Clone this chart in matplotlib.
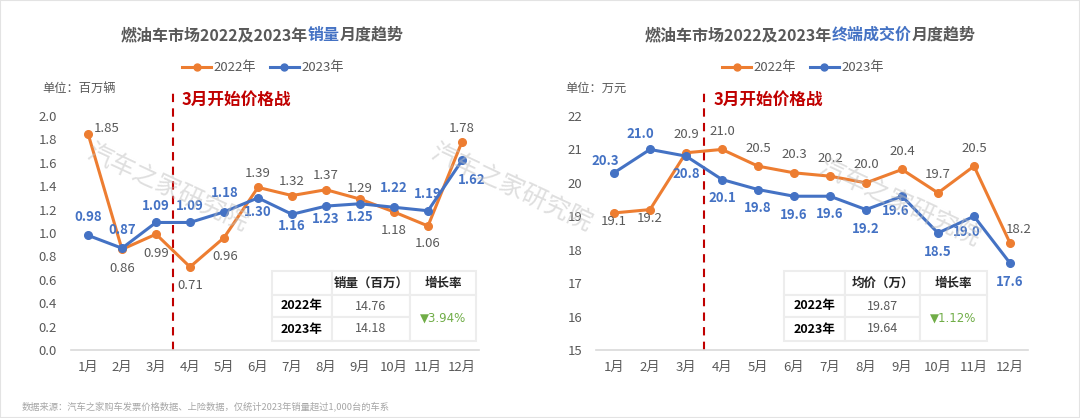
import matplotlib
matplotlib.use('Agg')
import matplotlib.pyplot as plt
from matplotlib.patches import Rectangle
from matplotlib.lines import Line2D

plt.rcParams['font.family'] = ['Noto Sans CJK SC', 'DejaVu Sans']

# ---- data ----
months = ['1月', '2月', '3月', '4月', '5月', '6月', '7月', '8月', '9月', '10月', '11月', '12月']
sales_2022 = [1.85, 0.86, 0.99, 0.71, 0.96, 1.39, 1.32, 1.37, 1.29, 1.18, 1.06, 1.78]
sales_2023 = [0.98, 0.87, 1.09, 1.09, 1.18, 1.30, 1.16, 1.23, 1.25, 1.22, 1.19, 1.62]
price_2022 = [19.1, 19.2, 20.9, 21.0, 20.5, 20.3, 20.2, 20.0, 20.4, 19.7, 20.5, 18.2]
price_2023 = [20.3, 21.0, 20.8, 20.1, 19.8, 19.6, 19.6, 19.2, 19.6, 18.5, 19.0, 17.6]

sales_table_years = ['2022年', '2023年']
sales_table_vals = ['14.76', '14.18']
sales_growth = '▼3.94%'
price_table_years = ['2022年', '2023年']
price_table_vals = ['19.87', '19.64']
price_growth = '▼1.12%'

# ---- style ----
ORANGE = '#ED7D31'
BLUE = '#4472C4'
GRAY = '#595959'
RED = '#C00000'
GREEN = '#70AD47'
W, H = 1080, 418
LBL = 9.5

# label offsets in pixels (dx, dy up positive)
sales_off_22 = [(19, 5), (0, -19), (0, -19), (0, -19), (1, -19), (0, 14), (0, 14),
                (0, 14), (0, 11), (0, -19), (0, -18), (0, 13)]
sales_off_23 = [(0, 18), (0, 18), (0, 16), (0, 16), (1, 19), (0, -14), (0, -12),
                (0, -13), (0, -13), (0, 19), (0, 17), (10, -20)]
price_off_22 = [(0, -9), (0, -9), (0, 18), (0, 18), (0, 18), (0, 18), (0, 18),
                (0, 18), (0, 18), (0, 18), (0, 18), (9, 14)]
price_off_23 = [(-9, 12), (-10, 15), (0, -18), (0, -18), (0, -18), (0, -19), (0, -18),
                (0, -19), (-6, -15), (0, -19), (-7, -16), (0, -19)]


def fx(px):
    return px / W


def fy(py):
    return 1 - py / H


fig = plt.figure(figsize=(10.8, 4.18), dpi=100)
fig.patch.set_facecolor('white')
fig.add_artist(Rectangle((0, 0), 1, 1, transform=fig.transFigure, fill=False,
                         edgecolor='#E3E3E3', linewidth=1.5))


def color_title(cx, cy, parts, size=11.5):
    r = fig.canvas.get_renderer()
    texts = [fig.text(0, fy(cy), s, color=c, fontsize=size, fontweight='bold',
                      va='center', ha='left') for s, c in parts]
    widths = [t.get_window_extent(renderer=r).width for t in texts]
    x = cx - sum(widths) / 2
    for t, w in zip(texts, widths):
        t.set_x(fx(x))
        x += w


def watermark(x, y):
    fig.text(fx(x), fy(y), '汽车之家研究院', fontsize=18, color='#BFBFBF', alpha=0.5,
             rotation=-25, rotation_mode='anchor', ha='left', va='center', zorder=0)


def draw_panel(rect, vals22, vals23, off22, off23, ylim, yticks, yfmt):
    ax = fig.add_axes(rect)
    x = range(len(months))
    ax.plot(x, vals22, color=ORANGE, lw=2.2, marker='o', ms=5.5, zorder=3, clip_on=False)
    ax.plot(x, vals23, color=BLUE, lw=2.2, marker='o', ms=5.5, zorder=4, clip_on=False)
    for i, v in enumerate(vals22):
        dx, dy = off22[i]
        ax.annotate(yfmt.format(v), (i, v), xytext=(dx * 0.72, dy * 0.72),
                    textcoords='offset points', ha='center', va='center',
                    fontsize=LBL, color=GRAY, zorder=5)
    for i, v in enumerate(vals23):
        dx, dy = off23[i]
        ax.annotate(yfmt.format(v), (i, v), xytext=(dx * 0.72, dy * 0.72),
                    textcoords='offset points', ha='center', va='center',
                    fontsize=LBL, color=BLUE, fontweight='bold', zorder=5)
    ax.set_xlim(-0.5, len(months) - 0.5)
    ax.set_ylim(*ylim)
    ax.set_yticks(yticks)
    ax.set_xticks(list(x))
    ax.set_xticklabels(months)
    ax.tick_params(length=0, labelsize=9.5, labelcolor=GRAY)
    ax.tick_params(axis='y', pad=10)
    ax.tick_params(axis='x', pad=8)
    for s in ['top', 'right', 'left']:
        ax.spines[s].set_visible(False)
    ax.spines['bottom'].set_color('#D9D9D9')
    ax.spines['bottom'].set_linewidth(1.2)
    ax.set_facecolor('none')
    # price war marker
    ax.axvline(2.5, ymin=0, ymax=1.11, color=RED, lw=1.5, ls=(0, (4, 3)), clip_on=False)
    return ax


def draw_table(xs, ys, header, years, vals, growth):
    for x0, x1 in zip(xs[:-1], xs[1:]):
        for i, (y0, y1) in enumerate(zip(ys[:-1], ys[1:])):
            if x0 == xs[2] and i > 0:
                continue
            fig.add_artist(Rectangle((fx(x0), fy(y1)), fx(x1 - x0), (y1 - y0) / H,
                                     transform=fig.transFigure, facecolor='white',
                                     edgecolor='#EDEDED', lw=1.5, zorder=6))
    fig.add_artist(Rectangle((fx(xs[2]), fy(ys[3])), fx(xs[3] - xs[2]), (ys[3] - ys[1]) / H,
                             transform=fig.transFigure, facecolor='white',
                             edgecolor='#EDEDED', lw=1.5, zorder=6))
    cx = [(a + b) / 2 for a, b in zip(xs[:-1], xs[1:])]
    cy = [(a + b) / 2 for a, b in zip(ys[:-1], ys[1:])]
    fig.text(fx(cx[1]), fy(cy[0]), header, ha='center', va='center', fontsize=9,
             fontweight='bold', color='#262626', zorder=7)
    fig.text(fx(cx[2]), fy(cy[0]), '增长率', ha='center', va='center', fontsize=9,
             fontweight='bold', color='#262626', zorder=7)
    for j in range(2):
        fig.text(fx(cx[0]), fy(cy[j + 1]), years[j], ha='center', va='center',
                 fontsize=9, fontweight='bold', color='black', zorder=7)
        fig.text(fx(cx[1]), fy(cy[j + 1]), vals[j], ha='center', va='center',
                 fontsize=9, color=GRAY, zorder=7)
    fig.text(fx(cx[2]), fy((ys[1] + ys[3]) / 2), growth, ha='center', va='center',
             fontsize=8.5, color=GREEN, zorder=7, family=['DejaVu Sans'])


# watermarks (behind)
watermark(88, 150)
watermark(432, 150)
watermark(820, 165)

ax1 = draw_panel([fx(71), fy(350), fx(408), (350 - 116) / H], sales_2022, sales_2023,
                 sales_off_22, sales_off_23, (0, 2.0),
                 [0, 0.2, 0.4, 0.6, 0.8, 1.0, 1.2, 1.4, 1.6, 1.8, 2.0], '{:.2f}')
ax1.yaxis.set_major_formatter(plt.FuncFormatter(lambda v, p: f'{v:.1f}'))
ax2 = draw_panel([fx(596), fy(350), fx(432), (350 - 116) / H], price_2022, price_2023,
                 price_off_22, price_off_23, (15, 22), list(range(15, 23)), '{:.1f}')

# titles
color_title(262, 35, [('燃油车市场2022及2023年', GRAY), ('销量', BLUE), ('月度趋势', GRAY)])
color_title(810, 35, [('燃油车市场2022及2023年', GRAY), ('终端成交价', BLUE), ('月度趋势', GRAY)])

# legends
handles = [Line2D([], [], color=ORANGE, lw=2.2, marker='o', ms=5),
           Line2D([], [], color=BLUE, lw=2.2, marker='o', ms=5)]
for cx in (263, 803):
    fig.legend(handles, ['2022年', '2023年'], loc='center', bbox_to_anchor=(fx(cx), fy(68)),
               ncol=2, frameon=False, fontsize=9.5, handlelength=2.2, handletextpad=0.2,
               columnspacing=1.0, labelcolor=GRAY)

# unit labels
fig.text(fx(42), fy(88), '单位：百万辆', fontsize=8.8, color=GRAY, va='center')
fig.text(fx(565), fy(88), '单位：万元', fontsize=8.8, color=GRAY, va='center')

# price war text
fig.text(fx(182), fy(100), '3月开始价格战', fontsize=12, color=RED, fontweight='bold', va='center')
fig.text(fx(714), fy(100), '3月开始价格战', fontsize=12, color=RED, fontweight='bold', va='center')

# tables
draw_table([272, 332, 410, 476], [271, 295, 317, 341], '销量（百万）',
           sales_table_years, sales_table_vals, sales_growth)
draw_table([784, 845, 920, 987], [271, 295, 317, 341], '均价（万）',
           price_table_years, price_table_vals, price_growth)

# footer
fig.text(fx(22), fy(406), '数据来源：汽车之家购车发票价格数据、上险数据，仅统计2023年销量超过1,000台的车系',
         fontsize=6.7, color='#A6A6A6', va='center')

fig.savefig('out.png', dpi=100)
